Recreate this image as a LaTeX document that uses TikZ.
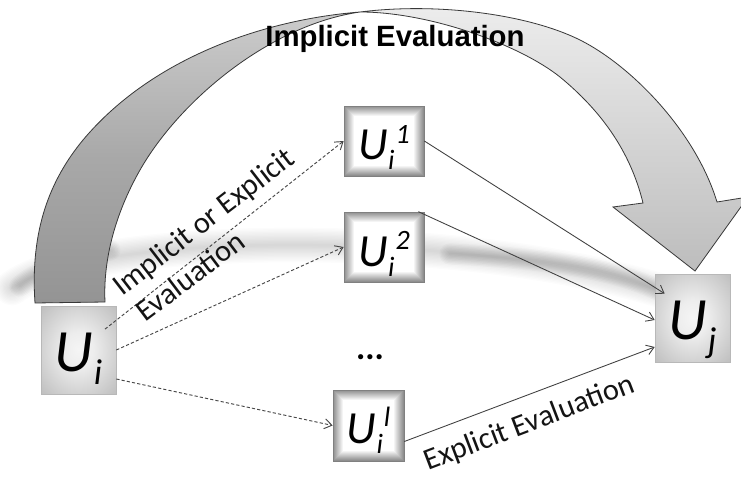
\documentclass[tikz,border=0pt]{standalone}
\usepackage{fontspec}
\setmainfont{Carlito}
\newfontfamily\titlefont{Liberation Sans}
\usetikzlibrary{arrows.meta,calc}

% soft radial fill for the two end boxes
\pgfdeclareradialshading{softbox}{\pgfpointorigin}{%
  color(0bp)=(white!96!black); color(10bp)=(white!93!black);
  color(50bp)=(black!36); color(71bp)=(black!48)}

% box labels: U with subscript (and superscript)
\newcommand\ulabbig[1]{\fontsize{45}{45}\selectfont\itshape U\kern0.5pt\raisebox{-9.75pt}{\fontsize{27}{27}\selectfont #1}}
\newcommand\ulabsmall[2]{\fontsize{34.5}{34.5}\selectfont\itshape U\kern0.3pt\raisebox{-7.5pt}{\fontsize{21}{21}\selectfont #1}\kern0.8pt\raisebox{12.5pt}{\fontsize{21}{21}\selectfont #2}}

\begin{document}
\begin{tikzpicture}[x=0.75pt,y=-0.75pt,
  bigbox/.style={rectangle, inner sep=0pt, minimum width=56.25pt, minimum height=66pt,
    shading=softbox, draw=black!28, line width=0.5pt, text height=31.5pt, text depth=0pt},
  smallbox/.style={rectangle, inner sep=0pt, fill=white, draw=black!50, line width=0.5pt,
    text height=28.5pt, text depth=0pt,
    path picture={
      \foreach \k in {0,...,9}{
        \pgfmathsetmacro\glowshade{44-4.4*\k}
        \draw[black!\glowshade, line width=0.8pt]
          ($(path picture bounding box.south west)+(\k+0.5,-\k-0.5)$) rectangle
          ($(path picture bounding box.north east)+(-\k-0.5,\k+0.5)$);
      }}},
  tipshape/.style={-{Straight Barb[length=5.5pt,width=7.5pt]}},
  dasharrow/.style={draw=black!72, line width=0.7pt, dash pattern=on 2.4pt off 1.6pt, tipshape},
  solidarrow/.style={draw=black!75, line width=0.65pt, tipshape},
  rotlabel/.style={font=\fontsize{22.8}{22.8}\selectfont, text=black!92, inner sep=0pt, anchor=base west},
  bandline/.style={draw=black!78, line width=0.6pt}
]
\useasboundingbox (0,0) rectangle (741,477);
\clip (0,0) rectangle (741,477);
\fill[white] (0,0) rectangle (741,477);

% blurred shadow streak under the curved arrow
\foreach \w in {2,4,...,26}{
  \draw[black, opacity=0.011, line width=\w pt, line cap=round]
    (12,288) .. controls (80,235) and (450,225) .. (665,292);
}
\foreach \w in {2,4,...,16}{
  \draw[black, opacity=0.02, line width=\w pt, line cap=round]
    (450,254) .. controls (540,258) and (615,268) .. (662,292);
}
\foreach \w in {2,4,...,16}{
  \draw[black, opacity=0.018, line width=\w pt, line cap=round]
    (20,286) .. controls (40,270) and (70,258) .. (110,250);
}

% curved arrow: back half (darker) rising from the tail
\path[bandline, top color=black!20, bottom color=black!42, middle color=black!34]
  (35,303) .. controls (30,230) and (50,180) .. (83,140)
  .. controls (150,60) and (260,20) .. (360,12)
  .. controls (270,25) and (180,100) .. (140,170)
  .. controls (115,214) and (103,260) .. (105,302) -- cycle;

% curved arrow: front half with the head
\path[bandline, top color=black!7, bottom color=black!26]
  (360,12) .. controls (440,2) and (530,15) .. (580,40)
  .. controls (630,65) and (695,130) .. (717,202)
  -- (748,197) -- (695,271) -- (613,207) -- (643,203)
  .. controls (630,150) and (600,110) .. (560,77)
  .. controls (520,45) and (430,12) .. (360,12) -- cycle;

\node[font=\titlefont\bfseries\fontsize{22}{22}\selectfont, anchor=base, inner sep=0pt]
  (title) at (395,47) {Implicit Evaluation};

% boxes
\node[bigbox] (ui) at (78.5,350) {\ulabbig{i}};
\node[bigbox] (uj) at (692.5,318) {\ulabbig{j}};
\node[smallbox, minimum width=60pt, minimum height=52.5pt] (ui1) at (384,141) {\ulabsmall{i}{1}};
\node[smallbox, minimum width=60pt, minimum height=52.5pt] (ui2) at (384,247) {\ulabsmall{i}{2}};
\node[smallbox, minimum width=53.25pt, minimum height=53.25pt, text height=26.5pt] (uil) at (368.5,425.5) {\ulabsmall{i}{l}};
\node[font=\bfseries\fontsize{26}{26}\selectfont, anchor=base, inner sep=0pt] (dots) at (370,359) {...};

% dashed connectors out of U_i
\draw[dasharrow] ($(ui.center)!0.1!(ui1.west)$) -- (ui1.west);
\draw[dasharrow] (ui.east) -- (ui2.west);
\draw[dasharrow] ($(ui.east)+(0,29)$) -- (uil.west);

% solid connectors into U_j
\draw[solidarrow] (ui1.east) -- ($(uj.north west)+(10,20)$);
\draw[solidarrow] ($(ui2.north east)+(-6,0)$) -- ($(uj.west)+(0,2)$);
\draw[solidarrow] ($(uil.east)+(0,16)$) -- ($(uj.west)+(0,29)$);

% edge labels
\node[rotlabel, rotate=37.7] (lab1) at (122,297) {Implicit or Explicit};
\node[rotlabel, rotate=37] (lab2) at (145,323) {Evaluation};
\node[rotlabel, rotate=20.9] (lab3) at (428,471) {Explicit Evaluation};
\end{tikzpicture}
\end{document}
